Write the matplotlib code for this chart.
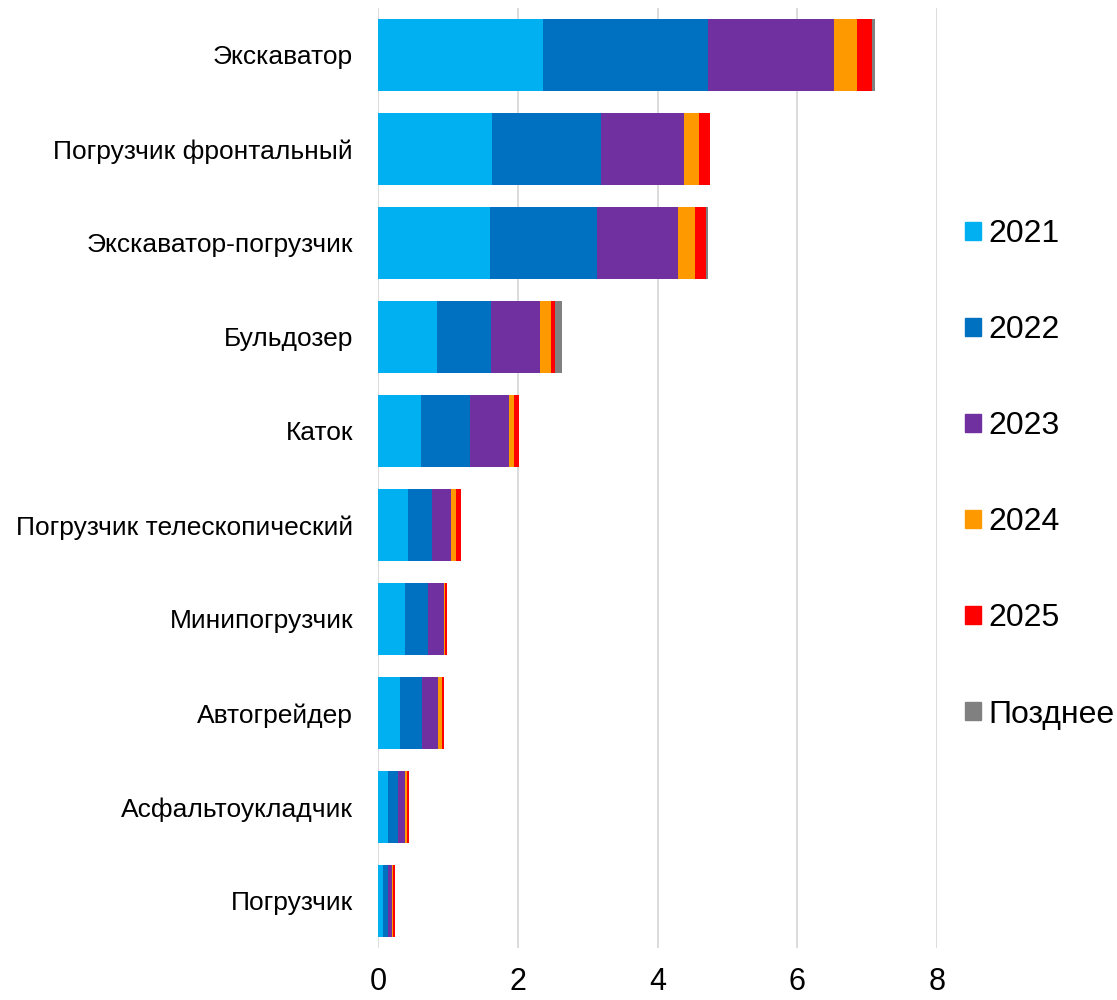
import numpy as np
import matplotlib.pyplot as plt
from matplotlib.patches import Patch

# --- Data ---
categories = [
    "Экскаватор",
    "Погрузчик фронтальный",
    "Экскаватор-погрузчик",
    "Бульдозер",
    "Каток",
    "Погрузчик телескопический",
    "Минипогрузчик",
    "Автогрейдер",
    "Асфальтоукладчик",
    "Погрузчик",
]
years = ["2021", "2022", "2023", "2024", "2025", "Позднее"]

v2021 = [2.36, 1.63, 1.61, 0.84, 0.61, 0.43, 0.38, 0.32, 0.15, 0.07]
v2022 = [2.36, 1.56, 1.52, 0.78, 0.71, 0.34, 0.33, 0.31, 0.13, 0.08]
v2023 = [1.81, 1.19, 1.17, 0.70, 0.56, 0.28, 0.23, 0.23, 0.11, 0.05]
v2024 = [0.32, 0.21, 0.24, 0.15, 0.07, 0.07, 0.02, 0.06, 0.03, 0.02]
v2025 = [0.22, 0.16, 0.16, 0.06, 0.07, 0.07, 0.03, 0.02, 0.03, 0.02]
vlater = [0.04, 0.00, 0.02, 0.10, 0.00, 0.00, 0.00, 0.00, 0.00, 0.01]

colors = ['#00B0F0', '#0070C0', '#7030A0', '#FF9900', '#FF0000', '#808080']

plt.rcParams['font.family'] = ['Liberation Sans', 'DejaVu Sans']

fig = plt.figure(figsize=(11.17, 10), dpi=100)
ax = fig.add_axes([378 / 1117, 0.052, (937 - 378) / 1117, 0.940])

series = [v2021, v2022, v2023, v2024, v2025, vlater]
y = np.arange(len(categories))
left = np.zeros(len(categories))
for vals, col, name in zip(series, colors, years):
    vals = np.array(vals)
    ax.barh(y, vals, left=left, height=0.77, color=col, linewidth=0, label=name)
    left += vals

ax.set_yticks(y)
ax.set_yticklabels(categories, fontsize=19)
ax.set_ylim(len(categories) - 0.5, -0.5)

ax.set_xlim(0, 8)
ax.set_xticks([0, 2, 4, 6, 8])
# labels sit close to the bottom edge, as in the reference
ax.tick_params(axis='x', labelsize=22, length=0, pad=14)
ax.tick_params(axis='y', length=0, pad=18)

ax.grid(axis='x', color='#d9d9d9', linewidth=1.3)
ax.set_axisbelow(True)
for s in ax.spines.values():
    s.set_visible(False)

handles = [Patch(color=c, label=n) for c, n in zip(colors, years)]
fig.legend(handles=handles, loc='upper left', bbox_to_anchor=(965 / 1117, 1 - 219 / 1000),
           frameon=False, fontsize=23, handlelength=0.5, handleheight=0.5,
           handletextpad=0.22, labelspacing=2.07, borderpad=0, borderaxespad=0)

fig.savefig('out.png', dpi=100)
